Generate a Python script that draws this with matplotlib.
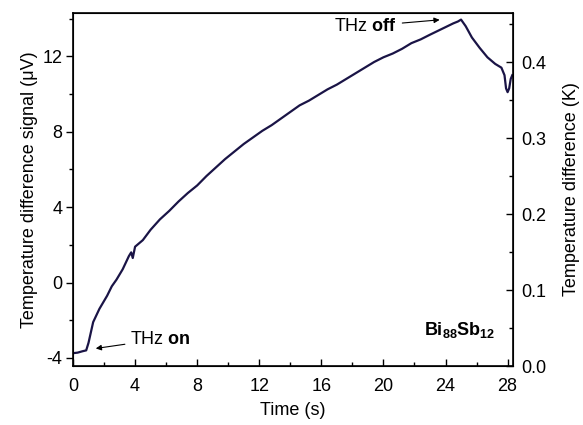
import matplotlib.pyplot as plt
from matplotlib.ticker import MultipleLocator

plt.rcParams['font.family'] = 'Liberation Sans'
plt.rcParams['mathtext.fontset'] = 'custom'
plt.rcParams['mathtext.rm'] = 'Liberation Sans'
plt.rcParams['mathtext.bf'] = 'Liberation Sans:bold'
plt.rcParams['font.size'] = 13
plt.rcParams['axes.unicode_minus'] = False

# time (s) and signal (uV)
time = [0, 0.3, 0.6, 0.85, 1.0, 1.3, 1.7, 2.2, 2.5, 2.8, 3.2, 3.6, 3.75, 3.85,
        4.0, 4.5, 5.0, 5.6, 6.2, 6.8, 7.4, 8.0, 8.6, 9.2, 9.8, 10.4, 11.0,
        11.6, 12.2, 12.8, 13.4, 14.0, 14.6, 15.2, 15.8, 16.4, 17.0, 17.6,
        18.2, 18.8, 19.4, 20.0, 20.6, 21.2, 21.8, 22.4, 23.0, 23.5, 24.0,
        24.5, 24.8, 25.0, 25.3, 25.7, 26.2, 26.7, 27.2, 27.6, 27.8, 27.9,
        28.0, 28.1, 28.2, 28.3]
signal = [-3.75, -3.72, -3.65, -3.6, -3.2, -2.1, -1.4, -0.7, -0.2, 0.15, 0.7,
          1.4, 1.6, 1.3, 1.9, 2.25, 2.8, 3.35, 3.8, 4.3, 4.75, 5.15, 5.65,
          6.1, 6.55, 6.95, 7.35, 7.7, 8.05, 8.35, 8.7, 9.05, 9.4, 9.65, 9.95,
          10.25, 10.5, 10.8, 11.1, 11.4, 11.7, 11.95, 12.15, 12.4, 12.7, 12.9,
          13.15, 13.35, 13.55, 13.75, 13.85, 13.95, 13.6, 13.0, 12.45, 11.95,
          11.6, 11.4, 11.0, 10.3, 10.1, 10.3, 10.8, 11.0]

x_ticks = [0, 4, 8, 12, 16, 20, 24, 28]
left_ticks = [-4, 0, 4, 8, 12]
right_ticks = [0.0, 0.1, 0.2, 0.3, 0.4]

fig = plt.figure(figsize=(5.83, 4.25), dpi=100)
ax = fig.add_axes([0.1252, 0.1388, 0.7548, 0.8306])
ax.plot(time, signal, color='#1a1446', lw=1.6)

ax.set_xlim(0, 28.35)
ax.set_ylim(-4.43, 14.3)
ax.set_xticks(x_ticks)
ax.set_yticks(left_ticks)
ax.xaxis.set_minor_locator(MultipleLocator(2))
ax.yaxis.set_minor_locator(MultipleLocator(2))
ax.tick_params(axis='x', which='both', direction='in', top=False, pad=8.5)
ax.tick_params(axis='y', which='both', direction='out', pad=2.5)
ax.tick_params(which='major', length=5, width=1)
ax.tick_params(which='minor', length=3, width=1)
for s in ax.spines.values():
    s.set_linewidth(1.2)

ax.set_xlabel('Time (s)', labelpad=5)
ax.set_ylabel('Temperature difference signal (\u03bcV)', labelpad=3)

ax2 = ax.twinx()
ax2.set_ylim(0, 0.4645)
ax2.set_yticks(right_ticks)
ax2.set_yticklabels(['0.0', '0.1', '0.2', '0.3', '0.4'])
ax2.yaxis.set_minor_locator(MultipleLocator(0.05))
ax2.tick_params(axis='y', which='both', direction='in', pad=6)
ax2.tick_params(which='major', length=5, width=1)
ax2.tick_params(which='minor', length=3, width=1)
ax2.set_ylabel('Temperature difference (K)', labelpad=12)

ax.annotate('THz $\\mathbf{on}$', xy=(1.29, -3.52), xytext=(3.7, -3.0),
            ha='left', va='center',
            arrowprops=dict(arrowstyle='-|>', color='black', lw=0.8,
                            mutation_scale=8))
ax.annotate('THz $\\mathbf{off}$', xy=(23.8, 13.95), xytext=(16.8, 13.6),
            ha='left', va='center',
            arrowprops=dict(arrowstyle='-|>', color='black', lw=0.8,
                            mutation_scale=8))
ax.text(27.2, -2.5, '$\\mathbf{Bi_{88}Sb_{12}}$', ha='right', va='center')

fig.savefig('out.png', dpi=100)
